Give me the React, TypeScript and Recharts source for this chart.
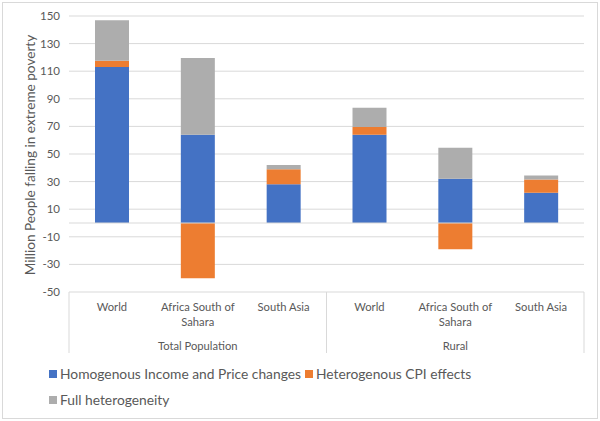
import React from 'react';
import { BarChart, Bar, XAxis, YAxis, CartesianGrid, ReferenceLine } from 'recharts';

const groups = ['Total Population', 'Rural'];
const categories = ['World', 'Africa South of Sahara', 'South Asia'];
const homogenous = [113, 64, 28, 64, 32, 22];
const cpiEffects = [4.5, -40, 11, 5.5, -19, 9.5];
const fullHetero = [29.5, 55.5, 3, 14, 22.5, 3];
const yTicks = [-50, -30, -10, 10, 30, 50, 70, 90, 110, 130, 150];

const seriesNames = ['Homogenous Income and Price changes', 'Heterogenous CPI effects', 'Full heterogeneity'];
const seriesColors = ['#4472C4', '#ED7D31', '#ADADAD'];
const yTitle = 'Million People falling in extreme poverty';

const data = groups.flatMap((g, gi) =>
  categories.map((c, ci) => {
    const i = gi * categories.length + ci;
    return { id: `${g}|${c}`, group: g, category: c, hom: homogenous[i], cpi: cpiEffects[i], full: fullHetero[i] };
  })
);

const FONT = 'Lato, "Open Sans", sans-serif';
const TEXT = '#595959';
const LINE = '#d9d9d9';

function wrap(label: string, max = 15): string[] {
  const words = label.split(' ');
  const lines: string[] = [];
  let cur = '';
  for (const w of words) {
    const next = cur ? cur + ' ' + w : w;
    if (next.length > max && cur) {
      lines.push(cur);
      cur = w;
    } else cur = next;
  }
  if (cur) lines.push(cur);
  return lines;
}

const CategoryTick = (props: any) => {
  const { x, y, payload, index } = props;
  const d = data[index] || data[payload.index] || { category: '', group: '' };
  const half = payload && payload.offset ? payload.offset : 42.8;
  const n = categories.length;
  const pos = index % n;
  const lines = wrap(d.category);
  const els: React.ReactNode[] = [];
  if (pos === 0) {
    els.push(<line key="l" x1={x - half} x2={x - half} y1={y} y2={y + 61} stroke={LINE} />);
  }
  if (index === data.length - 1) {
    els.push(<line key="r" x1={x + half} x2={x + half} y1={y} y2={y + 61} stroke={LINE} />);
  }
  lines.forEach((ln, i) => {
    els.push(
      <text key={'t' + i} x={x} y={y + 19 + i * 15} textAnchor="middle" fill={TEXT} fontSize={11.2} fontFamily={FONT}>
        {ln}
      </text>
    );
  });
  if (pos === Math.floor(n / 2)) {
    els.push(
      <text key="g" x={x} y={y + 58} textAnchor="middle" fill={TEXT} fontSize={11.2} fontFamily={FONT}>
        {d.group}
      </text>
    );
  }
  return <g>{els}</g>;
};

const YTitle = () => (
  <text transform="translate(30,155) rotate(-90)" textAnchor="middle" dominantBaseline="central" fill={TEXT} fontSize={13.6} fontFamily={FONT}>
    {yTitle}
  </text>
);

export default function App() {
  const legendRows = [[0, 1], [2]];
  return (
    <div style={{ position: 'absolute', left: 0, top: 0, width: 600, height: 421, background: '#fff' }}>
      <style>{'body{margin:0}'}</style>
      <div style={{ position: 'absolute', left: 2, top: 2, width: 594, height: 415, border: `1px solid ${LINE}` }} />
      <BarChart width={600} height={421} data={data} stackOffset="sign" margin={{ top: 16, right: 16, left: 24, bottom: 0 }} barSize={34}>
        <CartesianGrid vertical={false} stroke={LINE} />
        <XAxis dataKey="id" height={129} axisLine={false} tickLine={false} tickSize={0} tickMargin={0} interval={0} tick={<CategoryTick />} />
        <YAxis
          domain={[-50, 150]}
          ticks={yTicks}
          interval={0}
          width={45}
          axisLine={false}
          tickLine={false}
          tickSize={0}
          tickMargin={9}
          tick={{ fill: TEXT, fontSize: 11.5, fontFamily: FONT }}
          label={{ content: <YTitle /> } as any}
        />
        <ReferenceLine y={0} stroke={LINE} />
        <Bar dataKey="hom" stackId="s" fill={seriesColors[0]} name={seriesNames[0]} isAnimationActive={false} />
        <Bar dataKey="cpi" stackId="s" fill={seriesColors[1]} name={seriesNames[1]} isAnimationActive={false} />
        <Bar dataKey="full" stackId="s" fill={seriesColors[2]} name={seriesNames[2]} isAnimationActive={false} />
      </BarChart>
      {legendRows.map((row, ri) => (
        <div key={ri} style={{ position: 'absolute', left: 49, top: 365 + ri * 26, display: 'flex', alignItems: 'center', fontFamily: FONT, fontSize: 13.8, color: TEXT, whiteSpace: 'nowrap' }}>
          {row.map((si) => (
            <span key={si} style={{ display: 'inline-flex', alignItems: 'center', marginRight: 4 }}>
              <span style={{ width: 8, height: 8, background: seriesColors[si], display: 'inline-block', marginRight: 3 }} />
              {seriesNames[si]}
            </span>
          ))}
        </div>
      ))}
    </div>
  );
}
